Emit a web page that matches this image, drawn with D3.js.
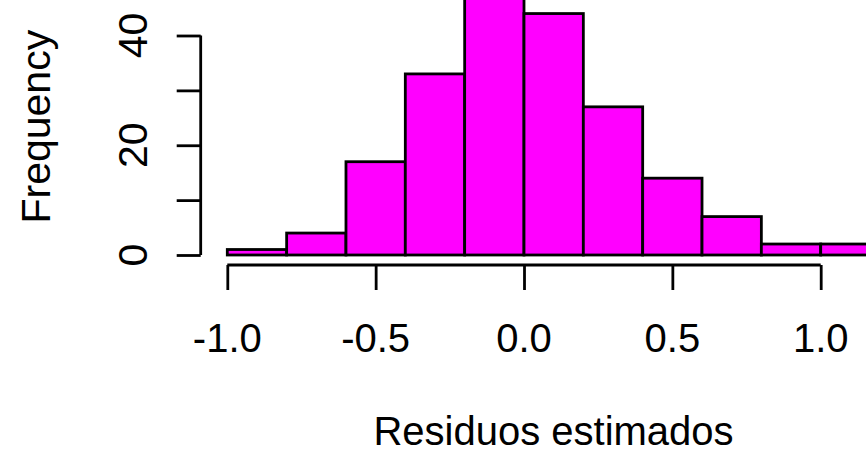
<!DOCTYPE html>
<html>
<head>
<meta charset="utf-8">
<script src="https://cdn.jsdelivr.net/npm/d3@7"></script>
<style>
  html, body { margin: 0; padding: 0; background: #fff; }
  svg { display: block; }
  text { font-family: "Liberation Sans", Arial, sans-serif; fill: #000; }
</style>
</head>
<body>
<svg id="chart" width="866" height="451"></svg>
<script>
// Histogram of estimated residuals
const binStarts = [-1.0, -0.8, -0.6, -0.4, -0.2, 0.0, 0.2, 0.4, 0.6, 0.8, 1.0];
const binWidth = 0.2;
const counts = [1, 4, 17, 33, 49, 44, 27, 14, 7, 2, 2];
const xTicks = [-1.0, -0.5, 0.0, 0.5, 1.0];
const xTickLabels = ["-1.0", "-0.5", "0.0", "0.5", "1.0"];
const yTicks = [0, 10, 20, 30, 40];
const yLabelTicks = [0, 20, 40];
const xTitle = "Residuos estimados";
const yTitle = "Frequency";

const svg = d3.select("#chart");
const x = d3.scaleLinear().domain([-1, 1]).range([227.3, 820.7]);
const y = d3.scaleLinear().domain([0, 40]).range([255, 35.5]);
const lw = 2.8;

// bars
svg.append("g").selectAll("rect")
  .data(binStarts.map((s, i) => ({ s, n: counts[i] })))
  .join("rect")
  .attr("x", d => x(d.s))
  .attr("y", d => y(d.n))
  .attr("width", d => x(d.s + binWidth) - x(d.s))
  .attr("height", d => y(0) - y(d.n))
  .attr("fill", "#ff00ff")
  .attr("stroke", "#000")
  .attr("stroke-width", lw);

// x axis (offset below the bars)
const gx = svg.append("g").attr("transform", "translate(0,265)")
  .call(d3.axisBottom(x).tickValues(xTicks).tickSize(25).tickSizeOuter(0).tickFormat(""));
gx.select(".domain").attr("stroke", "#000").attr("stroke-width", lw)
  .attr("d", `M${x(-1)},0H${x(1)}`);
gx.selectAll(".tick line").attr("stroke", "#000").attr("stroke-width", lw);

// y axis
const gy = svg.append("g").attr("transform", "translate(200.7,0)")
  .call(d3.axisLeft(y).tickValues(yTicks).tickSize(24).tickSizeOuter(0).tickFormat(""));
gy.select(".domain").attr("stroke", "#000").attr("stroke-width", lw)
  .attr("d", `M0,${y(0)}V${y(40)}`);
gy.selectAll(".tick line").attr("stroke", "#000").attr("stroke-width", lw);

// x tick labels
svg.append("g").selectAll("text")
  .data(xTicks)
  .join("text")
  .attr("x", d => x(d))
  .attr("y", 351.7)
  .attr("text-anchor", "middle")
  .attr("font-size", 40)
  .text((d, i) => xTickLabels[i]);

// y tick labels (rotated)
svg.append("g").selectAll("text")
  .data(yLabelTicks)
  .join("text")
  .attr("transform", d => `translate(146.5,${y(d)}) rotate(-90)`)
  .attr("text-anchor", "middle")
  .attr("font-size", 41)
  .text(d => d);

// titles
svg.append("text")
  .attr("x", 553.5)
  .attr("y", 445)
  .attr("text-anchor", "middle")
  .attr("font-size", 40)
  .text(xTitle);

svg.append("text")
  .attr("transform", "translate(50,126.7) rotate(-90)")
  .attr("text-anchor", "middle")
  .attr("font-size", 41)
  .text(yTitle);
</script>
</body>
</html>
